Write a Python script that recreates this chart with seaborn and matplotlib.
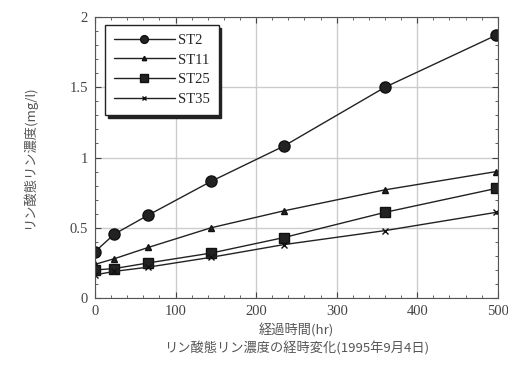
import numpy as np
import pandas as pd
import matplotlib
matplotlib.use("Agg")
import matplotlib.pyplot as plt
import seaborn as sns
from matplotlib.ticker import MultipleLocator

# elapsed time (hr) and concentrations
hours = [0, 24, 66, 144, 234, 360, 498]
st2 = [0.33, 0.455, 0.59, 0.83, 1.08, 1.50, 1.87]
st11 = [0.24, 0.28, 0.36, 0.50, 0.62, 0.77, 0.90]
st25 = [0.20, 0.21, 0.25, 0.32, 0.43, 0.61, 0.78]
st35 = [0.165, 0.19, 0.22, 0.29, 0.38, 0.48, 0.61]
names = ["ST2", "ST11", "ST25", "ST35"]

df = pd.DataFrame({
    "hr": hours * 4,
    "conc": st2 + st11 + st25 + st35,
    "station": [n for n in names for _ in hours],
})

sns.set_style("ticks")
plt.rcParams["font.family"] = ["Liberation Serif", "Noto Sans CJK JP"]
plt.rcParams["xtick.direction"] = "in"
plt.rcParams["ytick.direction"] = "in"

fig = plt.figure(figsize=(5.08, 3.68), dpi=100)
ax = fig.add_axes([0.187, 0.19, 0.793, 0.764])

markers = {"ST2": "o", "ST11": "^", "ST25": "s", "ST35": "x"}
sizes = {"ST2": 8, "ST11": 4.5, "ST25": 7.5, "ST35": 5}
for n in names:
    sns.lineplot(data=df[df.station == n], x="hr", y="conc", ax=ax,
                 color="#222222", lw=1.0, marker=markers[n],
                 markersize=sizes[n], markeredgewidth=1.0,
                 markeredgecolor="#111111", label=n)

ax.set_xlim(0, 500)
ax.set_ylim(0, 2)
ax.xaxis.set_major_locator(MultipleLocator(100))
ax.xaxis.set_minor_locator(MultipleLocator(20))
ax.yaxis.set_major_locator(MultipleLocator(0.5))
ax.yaxis.set_minor_locator(MultipleLocator(0.1))
ax.set_yticks([0, 0.5, 1, 1.5, 2])
ax.set_yticklabels(["0", "0.5", "1", "1.5", "2"])
ax.tick_params(which="both", top=True, right=True, labelsize=10.5, colors="#444444")
ax.tick_params(which="major", length=4, pad=5)
ax.tick_params(which="minor", length=2)
ax.grid(True, which="major", color="#cccccc", lw=1.0)
for s in ax.spines.values():
    s.set_color("#555555")

ax.set_xlabel("経過時間(hr)\nリン酸態リン濃度の経時変化(1995年9月4日)",
              fontsize=9.5, family=["Noto Sans CJK JP"], color="#555555",
              labelpad=4, linespacing=1.3)
ax.set_ylabel("リン酸態リン濃度(mg/l)", fontsize=9.5, family=["Noto Sans CJK JP"],
              color="#555555", labelpad=24)

leg = ax.legend(loc="upper left", bbox_to_anchor=(0.025, 0.972), borderaxespad=0,
                frameon=True, fancybox=False,
                shadow={"ox": 2, "oy": -2, "facecolor": "#222222",
                        "edgecolor": "#222222", "alpha": 1},
                fontsize=10.5, handlelength=4.2, markerscale=0.7,
                labelspacing=0.45, borderpad=0.6, handletextpad=0.2)
leg.get_frame().set_edgecolor("#222222")
leg.get_frame().set_linewidth(1.0)

fig.savefig("out.png", dpi=100)
